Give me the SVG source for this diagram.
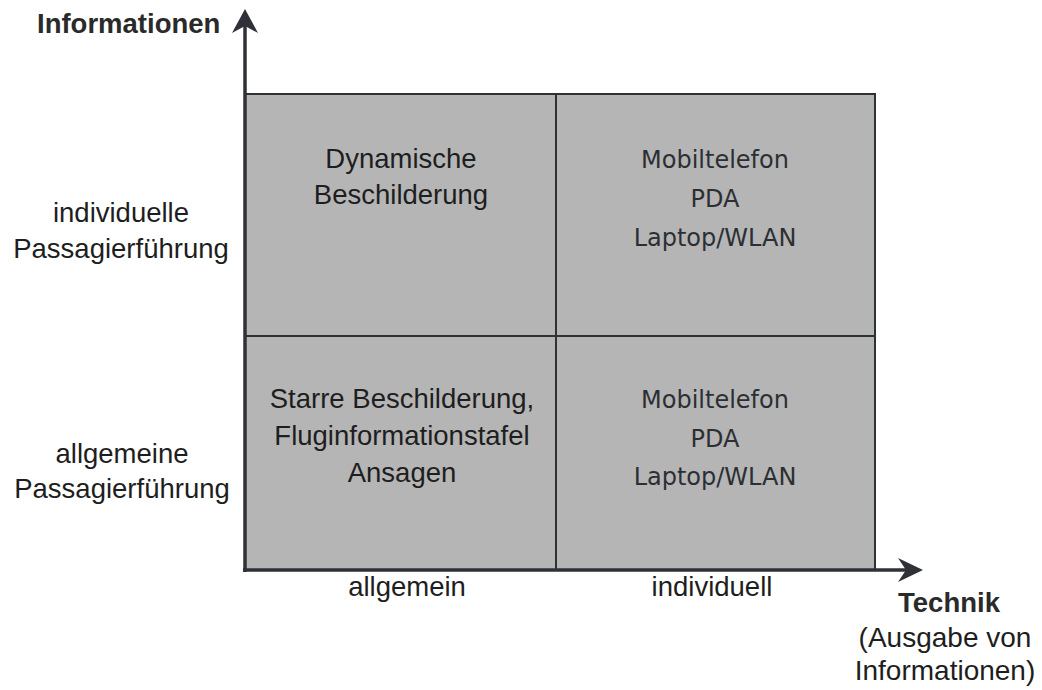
<svg xmlns="http://www.w3.org/2000/svg" width="1042" height="690" viewBox="0 0 1042 690">
  <style>
    .a { font-family: "Liberation Sans", Arial, sans-serif; font-size: 27.5px; fill: #1e1e1e; text-anchor: middle; }
    .b { font-family: "Liberation Sans", Arial, sans-serif; font-size: 27.5px; font-weight: bold; fill: #2a2a2a; }
    .v { font-family: "DejaVu Sans", Verdana, sans-serif; font-size: 24px; fill: #2b2f33; text-anchor: middle; }
    .cell { fill: #b5b5b6; stroke: #2e3136; stroke-width: 2; }
    .axis { stroke: #2e3238; stroke-width: 3.5; fill: none; }
    .head { fill: #2e3238; }
  </style>
  <rect width="1042" height="690" fill="#ffffff"/>

  <g id="cell-top-left">
    <rect class="cell" x="245" y="94" width="311" height="242"/>
    <text class="a" x="401" y="168">Dynamische</text>
    <text class="a" x="401" y="204">Beschilderung</text>
  </g>
  <g id="cell-top-right">
    <rect class="cell" x="556" y="94" width="319" height="242"/>
    <text class="v" x="715" y="168">Mobiltelefon</text>
    <text class="v" x="715" y="207">PDA</text>
    <text class="v" x="715" y="246">Laptop/WLAN</text>
  </g>
  <g id="cell-bottom-left">
    <rect class="cell" x="245" y="336" width="311" height="234"/>
    <text class="a" x="402" y="408">Starre Beschilderung,</text>
    <text class="a" x="402" y="445">Fluginformationstafel</text>
    <text class="a" x="402" y="482">Ansagen</text>
  </g>
  <g id="cell-bottom-right">
    <rect class="cell" x="556" y="336" width="319" height="234"/>
    <text class="v" x="715" y="408">Mobiltelefon</text>
    <text class="v" x="715" y="447">PDA</text>
    <text class="v" x="715" y="485">Laptop/WLAN</text>
  </g>

  <g id="connectors">
    <line class="axis" x1="245" y1="572" x2="245" y2="20"/>
    <path class="head" d="M245,9 L258,33 L245,26 L232,33 Z"/>
    <line class="axis" x1="243" y1="570" x2="914" y2="570"/>
    <path class="head" d="M923,570 L898,558 L906,570 L898,582 Z"/>
  </g>

  <g id="y-axis-labels">
    <text class="b" x="37" y="33">Informationen</text>
    <text class="a" x="121" y="222">individuelle</text>
    <text class="a" x="121" y="258">Passagierführung</text>
    <text class="a" x="122" y="463">allgemeine</text>
    <text class="a" x="122" y="498">Passagierführung</text>
  </g>
  <g id="x-axis-labels">
    <text class="a" x="407" y="596">allgemein</text>
    <text class="a" x="712" y="596">individuell</text>
    <text class="b" x="949" y="612" text-anchor="middle">Technik</text>
    <text class="a" x="945" y="647" style="font-size:28px">(Ausgabe von</text>
    <text class="a" x="945" y="680" style="font-size:28px">Informationen)</text>
  </g>
</svg>
